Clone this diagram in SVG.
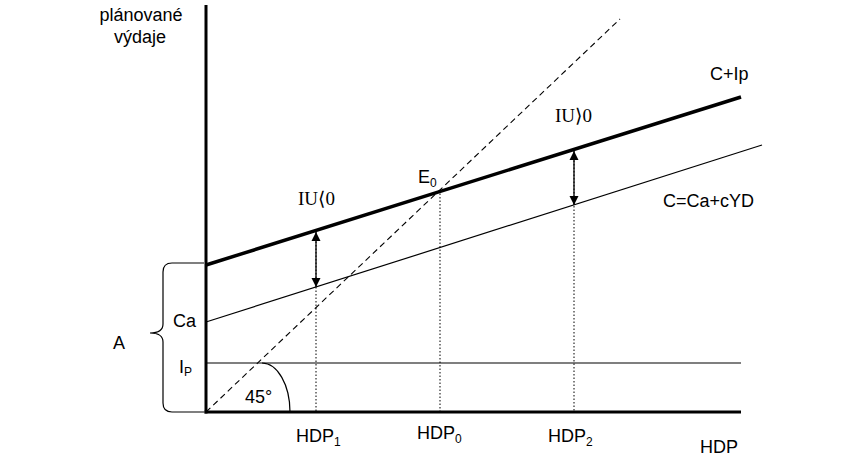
<svg xmlns="http://www.w3.org/2000/svg" width="848" height="464" viewBox="0 0 848 464">
<style>
.t{font-family:"Liberation Sans",Arial,sans-serif;font-size:18px;fill:#000}
.s{font-family:"Liberation Serif","DejaVu Serif",serif;font-size:19px;fill:#000}
.sub{font-size:12px}
.thin{stroke:#000;stroke-width:1.2;fill:none}
.dot{stroke:#000;stroke-width:1;stroke-dasharray:1.5 2;fill:none}
</style>
<defs>
<marker id="ah" viewBox="0 0 10 10" refX="10" refY="5" markerWidth="9" markerHeight="10" markerUnits="userSpaceOnUse" orient="auto-start-reverse">
<path d="M0,0 L10,5 L0,10 z" fill="#000"/>
</marker>
</defs>
<rect width="848" height="464" fill="#fff"/>
<g id="connectors">
<line x1="206" y1="412" x2="620" y2="19" stroke="#000" stroke-width="1.1" stroke-dasharray="6 4"/>
<line class="thin" x1="206" y1="363" x2="741" y2="363" stroke-width="1.6"/>
<line class="thin" x1="206" y1="322" x2="762" y2="145"/>
<line x1="206" y1="265" x2="741" y2="97" stroke="#000" stroke-width="3.5"/>
<line class="dot" x1="316" y1="231" x2="316" y2="412"/>
<line class="dot" x1="440" y1="190" x2="440" y2="412"/>
<line class="dot" x1="574" y1="150" x2="574" y2="412"/>
<line x1="316" y1="232" x2="316" y2="287" stroke="#000" stroke-width="1.3" marker-start="url(#ah)" marker-end="url(#ah)"/>
<line x1="574" y1="151" x2="574" y2="205" stroke="#000" stroke-width="1.3" marker-start="url(#ah)" marker-end="url(#ah)"/>
<path class="thin" d="M262,363 A28,49 0 0 1 290,412"/>
<path class="thin" d="M204,263 H172 Q163,263 163,272 V324 Q163,333 150,333 Q163,333 163,342 V403 Q163,412 172,412 H204"/>
<line x1="206" y1="5" x2="206" y2="413.5" stroke="#000" stroke-width="3"/>
<line x1="204.5" y1="412" x2="741" y2="412" stroke="#000" stroke-width="3"/>
</g>
<g id="labels">
<text class="t" x="141" y="21" text-anchor="middle">plánované</text>
<text class="t" x="140" y="43" text-anchor="middle">výdaje</text>
<text class="t" x="710" y="80">C+Ip</text>
<text class="s" x="555" y="122">IU⟩0</text>
<text class="t" x="663" y="207">C=Ca+cYD</text>
<text class="t" x="418" y="183">E<tspan class="sub" dy="4">0</tspan></text>
<text class="s" x="298" y="205">IU⟨0</text>
<text class="t" x="173" y="327">Ca</text>
<text class="t" x="113" y="349">A</text>
<text class="t" x="179" y="373">I<tspan class="sub" dy="3">P</tspan></text>
<text class="t" x="245" y="403">45°</text>
<text class="t" x="296" y="442">HDP<tspan class="sub" dy="4">1</tspan></text>
<text class="t" x="417" y="439">HDP<tspan class="sub" dy="4">0</tspan></text>
<text class="t" x="548" y="442">HDP<tspan class="sub" dy="4">2</tspan></text>
<text class="t" x="700" y="453">HDP</text>
</g>
</svg>
